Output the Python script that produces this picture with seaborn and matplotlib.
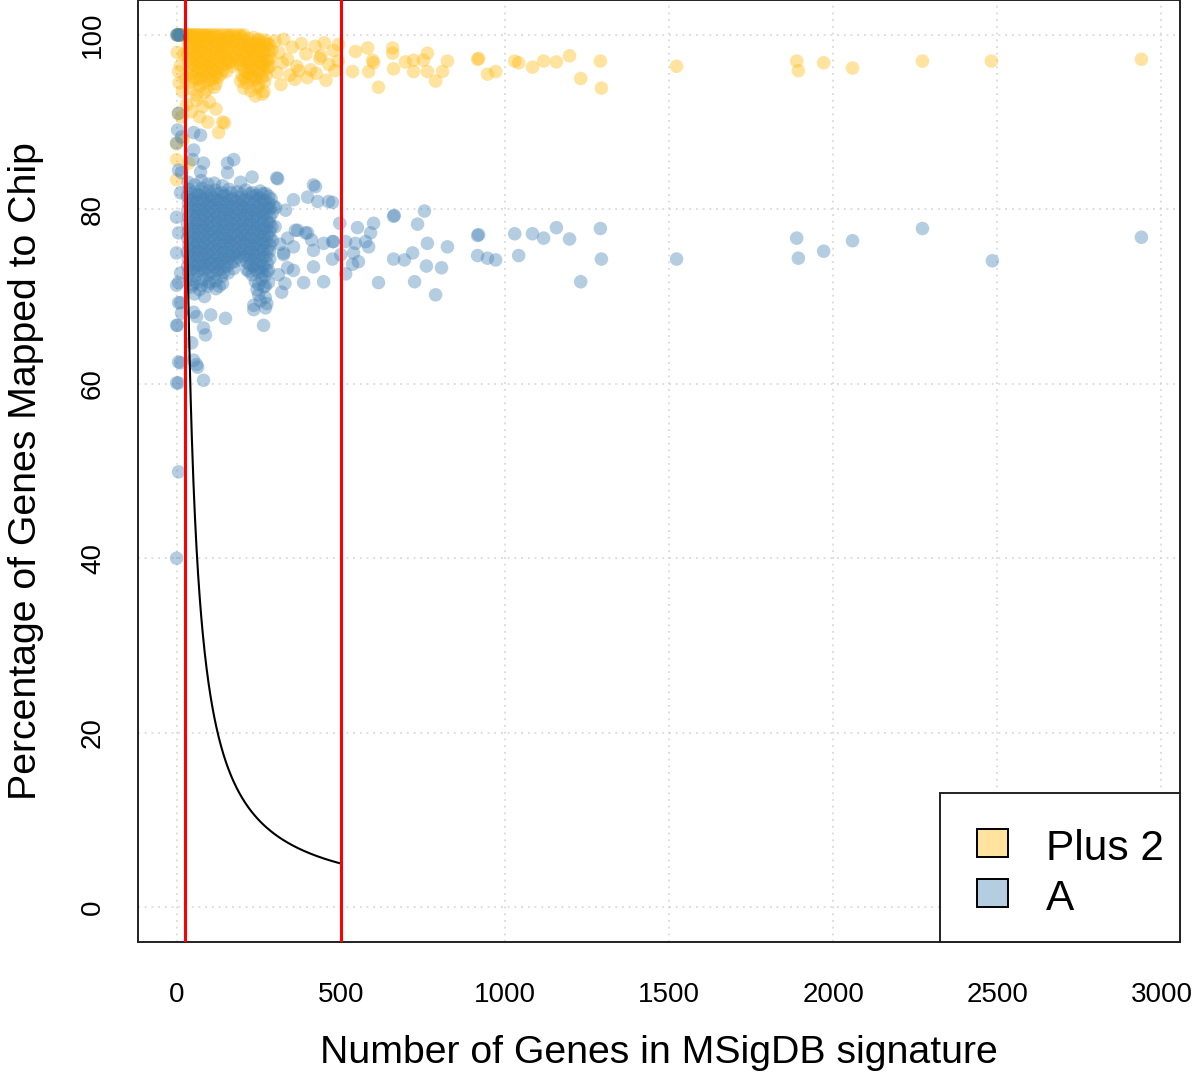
import numpy as np
import pandas as pd
import matplotlib
matplotlib.use("Agg")
import matplotlib.pyplot as plt
from matplotlib.patches import Rectangle
import seaborn as sns

# ---------------------------------------------------------------------------
# Signature size (number of genes) and percentage of genes present on chip
# ---------------------------------------------------------------------------
plus2_genes = [
    2, 4, 6, 8, 10, 12, 15, 18, 22, 26, 30, 35, 40, 46, 52, 58, 65, 72, 80, 88,
    96, 105, 114, 124, 134, 145, 156, 168, 180, 192, 205,
    47, 66, 84, 102, 120, 140, 160, 180, 198, 216, 234, 252, 270,
    35, 52, 68, 86, 103, 121, 138, 157, 174, 192, 210, 228, 247, 265, 283,
    44, 62, 80, 97, 115, 133, 150, 168, 186, 204, 222, 240, 258, 276,
    38, 56, 74, 91, 109, 127, 145, 163, 181, 199, 217, 236, 254, 272, 290,
    47, 65, 83, 101, 119, 137, 155, 173, 191, 209, 227, 245, 263, 281,
    33, 50, 69, 88, 106, 124, 142, 160, 178, 196, 214, 233, 251, 269, 286,
    42, 60, 79, 97, 116, 134, 152, 171, 189, 207, 226, 244, 262, 280,
    36, 55, 73, 92, 110, 129, 147, 165, 184, 202, 220, 238, 257, 275,
    48, 66, 84, 102, 120, 138, 158, 194, 212, 230, 248, 266, 284,
    40, 58, 77, 95, 113, 131, 150, 170, 205, 223, 241, 260, 278,
    50, 68, 86, 104, 122, 140, 210, 228, 247, 265,
    42, 61, 80, 98, 117, 135, 152, 200, 218, 236, 255, 273,
    52, 72, 90, 108, 126, 206, 224, 242, 260,
    45, 64, 83, 101, 120, 195, 213, 232, 250, 268,
    48, 70, 92, 115, 205, 226, 246, 266,
    60, 85, 240, 262,
    300, 312, 326, 338, 352, 366, 380, 394, 408, 422, 436, 450, 464, 478, 492,
    305, 322, 345, 372, 398, 425, 455, 482, 318, 360, 440,
    60, 80, 100, 120, 45, 70, 95, 140, 146, 128, 30, 15, 6, 8, 0, 0, 37, 20,
    2, 12, 18, 25, 22, 5, 0,
    493, 545, 582, 597, 600, 585, 536, 615, 658, 658, 661, 697, 722, 722, 752,
    764, 764, 789, 810, 825, 917, 920, 947, 972, 1030, 1042, 1084, 1118, 1157,
    1197, 1231, 1291, 1294, 1523, 1889, 1894, 1971, 2059, 2272, 2482, 2939,
]
plus2_pct = [
    100, 100, 100, 100, 100, 100, 100, 100, 100, 100, 100, 100, 100, 100, 100,
    100, 100, 100, 100, 100, 100, 100, 100, 100, 100, 100, 100, 100, 100, 100,
    100,
    99.8, 99.6, 99.9, 99.7, 99.8, 99.5, 99.9, 99.7, 99.8, 99.6, 99.7, 99.5, 99.4,
    99.3, 99.6, 99.2, 99.5, 99.7, 99.1, 99.4, 99.6, 99.2, 99.5, 99.3, 99.0, 99.4,
    99.1, 98.9,
    99.0, 98.8, 99.2, 98.9, 99.1, 98.7, 99.0, 99.2, 98.8, 99.0, 98.7, 99.1, 98.8,
    99.0,
    98.6, 98.9, 98.5, 98.8, 98.4, 98.7, 99.0, 98.6, 98.3, 98.8, 98.5, 98.9, 98.4,
    98.7, 98.2,
    98.3, 98.1, 98.4, 98.2, 98.3, 98.0, 98.4, 98.1, 98.3, 98.0, 98.4, 98.2, 98.0,
    98.2,
    97.8, 98.1, 97.7, 98.0, 97.6, 97.9, 98.2, 97.8, 97.5, 98.0, 97.7, 98.1, 97.6,
    97.9, 97.4,
    97.4, 97.6, 97.2, 97.5, 97.3, 97.6, 97.2, 97.4, 97.1, 97.5, 97.3, 97.6, 97.2,
    97.0,
    97.0, 97.3, 96.9, 97.2, 96.8, 97.1, 97.4, 96.9, 96.7, 97.2, 96.9, 97.3, 96.8,
    97.1,
    96.7, 96.9, 96.6, 96.8, 96.5, 96.7, 96.9, 96.6, 96.8, 96.5, 96.8, 96.6, 96.4,
    96.2, 96.5, 96.1, 96.4, 96.0, 96.3, 96.6, 96.4, 96.1, 96.4, 96.0, 96.5, 96.2,
    95.9, 96.1, 95.8, 96.0, 95.7, 95.9, 95.8, 96.1, 95.7, 95.9,
    95.4, 95.7, 95.3, 95.6, 95.2, 95.5, 95.8, 95.3, 95.6, 95.2, 95.7, 95.4,
    95.1, 95.0, 95.2, 94.9, 95.1, 95.0, 95.2, 94.9, 95.1,
    94.6, 94.9, 94.5, 94.8, 94.4, 94.7, 94.5, 94.9, 94.3, 94.6,
    93.8, 94.1, 93.7, 94.0, 93.9, 93.6, 94.0, 93.5,
    93.1, 93.4, 93.0, 93.2,
    99.3, 98.0, 99.5, 97.2, 98.6, 96.4, 99.0, 97.8, 96.0, 98.7, 97.3, 99.1, 96.6,
    98.2, 97.0,
    95.7, 96.8, 95.4, 95.9, 95.1, 95.6, 94.8, 95.9, 94.3, 94.9, 97.6,
    92.5, 91.8, 92.3, 91.5, 91.2, 90.6, 90.0, 90.0, 89.9, 88.8, 92.0, 90.6, 95.8,
    94.5, 85.7, 83.4, 85.3, 88.0,
    98.0, 96.5, 93.5, 95.0, 97.8, 91.0, 87.5,
    98.9, 98.1, 98.5, 97.1, 96.8, 95.8, 95.8, 94.0, 98.5, 97.9, 96.1, 96.9, 97.1,
    95.8, 97.1, 97.9, 95.8, 94.7, 95.8, 97.0, 97.2, 97.3, 95.5, 95.8, 97.0, 96.8,
    96.3, 97.0, 96.9, 97.6, 95.0, 97.0, 93.9, 96.4, 97.0, 95.9, 96.8, 96.2, 97.0,
    97.0, 97.2,
]

a_genes = [
    0, 3, 5, 8, 10,
    35, 55, 75, 95, 115, 140,
    38, 58, 78, 98, 118, 138, 160, 185, 210, 232, 255, 272,
    45, 65, 85, 105, 125, 145, 167, 197, 222, 244, 263, 281,
    33, 52, 72, 92, 112, 132, 152, 172, 192, 212, 232, 252, 270, 288,
    43, 62, 82, 102, 122, 142, 162, 182, 202, 222, 242, 262, 282,
    36, 56, 76, 96, 116, 136, 156, 176, 196, 216, 236, 256, 276, 295,
    46, 66, 86, 106, 126, 146, 166, 186, 206, 226, 246, 266, 284,
    34, 54, 74, 94, 114, 134, 154, 174, 194, 214, 234, 254, 274, 292,
    44, 64, 84, 104, 124, 144, 164, 184, 204, 224, 244, 264, 284,
    37, 57, 77, 97, 117, 137, 157, 177, 197, 217, 237, 257, 277,
    43, 63, 83, 103, 123, 143, 163, 183, 203, 223, 243, 263, 283,
    33, 53, 73, 93, 113, 133, 153, 173, 193, 213, 233, 253, 273, 290,
    44, 64, 84, 104, 124, 144, 164, 184, 204, 224, 244, 264, 284,
    36, 56, 76, 96, 116, 136, 156, 176, 196, 216, 236, 256, 276,
    46, 66, 86, 106, 126, 146, 166, 186, 206, 226, 246, 266, 284,
    34, 54, 74, 94, 114, 134, 154, 174, 194, 214, 234, 254, 274, 292,
    44, 64, 84, 104, 124, 144, 164, 184, 204, 224, 244, 264, 284,
    37, 57, 77, 97, 117, 137, 157, 177, 197, 217, 237, 257, 277,
    43, 63, 83, 103, 123, 143, 163, 183, 203, 223, 243, 263, 283,
    33, 53, 73, 93, 113, 133, 153, 173, 193, 213, 233, 253, 273,
    44, 64, 84, 104, 124, 144, 164, 184, 204, 224, 244, 264, 284,
    36, 56, 76, 96, 116, 136, 156, 176, 196, 216, 236, 256, 276,
    46, 66, 86, 106, 126, 146, 166, 224, 244, 264,
    34, 54, 74, 94, 114, 134, 154, 174, 214, 234, 254, 274,
    44, 64, 84, 104, 124, 144, 220, 240, 260, 280,
    37, 57, 77, 97, 117, 137, 157, 230, 250, 270,
    40, 60, 80, 100, 120, 140, 240, 260, 280,
    50, 75, 100, 130, 250, 270,
    45, 70, 95, 120, 245, 265,
    55, 85, 250, 270,
    255, 275,
    6, 15, 0, 3, 52, 73, 52, 49, 82, 73, 6, 155, 174, 155, 195, 230, 308,
    0, 6, 0, 12, 0, 12, 0, 6, 0, 6, 0, 12, 15, 6, 6, 3, 12, 6,
    82, 61, 46, 88, 82, 61, 15, 149, 235, 265, 271, 52, 52, 64, 104, 235,
    305, 417, 423, 356, 399, 430, 463, 302, 332, 399, 369, 338, 448, 478, 326,
    356, 417, 362, 411, 475, 497, 475, 500, 475, 387, 448, 417, 356, 338, 326,
    393, 310, 320, 300, 315, 330,
    515, 545, 576, 585, 539, 554, 536, 515, 615, 551, 600, 591, 661, 663, 755,
    734, 764, 825, 719, 661, 694, 761, 807, 725, 789, 917, 920, 917, 947, 972,
    1030, 1042, 1084, 1118, 1157, 1197, 1231, 1291, 1294, 1523, 1889, 1894,
    1971, 2059, 2272, 2485, 2939,
]
a_pct = [
    100, 100, 100, 100, 100,
    83.1, 82.8, 83.3, 82.9, 83.0, 82.7,
    82.3, 82.0, 82.4, 82.1, 82.2, 81.9, 82.3, 82.0, 82.2, 81.9, 82.1, 81.8,
    81.8, 81.7, 81.9, 81.6, 81.8, 81.6, 81.9, 81.7, 81.8, 81.6, 81.8, 81.5,
    81.5, 81.2, 81.6, 81.3, 81.4, 81.1, 81.5, 81.2, 81.4, 81.1, 81.5, 81.3, 81.0,
    81.2,
    81.0, 80.9, 81.1, 80.8, 81.0, 80.8, 81.1, 80.9, 81.0, 80.8, 81.1, 80.9, 80.7,
    80.7, 80.4, 80.8, 80.5, 80.6, 80.3, 80.7, 80.4, 80.6, 80.3, 80.7, 80.5, 80.2,
    80.4,
    80.2, 80.0, 80.3, 80.1, 80.2, 79.9, 80.3, 80.0, 80.2, 79.9, 80.2, 80.0, 80.1,
    79.9, 79.6, 80.0, 79.7, 79.8, 79.5, 79.9, 79.6, 79.8, 79.5, 79.9, 79.7, 79.4,
    79.6,
    79.4, 79.3, 79.5, 79.2, 79.4, 79.2, 79.5, 79.3, 79.4, 79.2, 79.5, 79.3, 79.1,
    79.1, 78.8, 79.2, 78.9, 79.0, 78.7, 79.1, 78.8, 79.0, 78.7, 79.1, 78.9, 78.6,
    78.6, 78.4, 78.7, 78.5, 78.6, 78.3, 78.7, 78.4, 78.6, 78.3, 78.7, 78.5, 78.4,
    78.3, 78.0, 78.4, 78.1, 78.2, 77.9, 78.3, 78.0, 78.2, 77.9, 78.3, 78.1, 77.8,
    78.0,
    77.8, 77.7, 77.9, 77.6, 77.8, 77.6, 77.9, 77.7, 77.8, 77.6, 77.9, 77.7, 77.5,
    77.5, 77.2, 77.6, 77.3, 77.4, 77.1, 77.5, 77.2, 77.4, 77.1, 77.5, 77.3, 77.0,
    77.0, 76.8, 77.1, 76.9, 77.0, 76.7, 77.1, 76.8, 77.0, 76.7, 77.1, 76.9, 76.8,
    76.7, 76.4, 76.8, 76.5, 76.6, 76.3, 76.7, 76.4, 76.6, 76.3, 76.7, 76.5, 76.2,
    76.4,
    76.2, 76.1, 76.3, 76.0, 76.2, 76.0, 76.3, 76.1, 76.2, 76.0, 76.3, 76.1, 75.9,
    75.9, 75.6, 76.0, 75.7, 75.8, 75.5, 75.9, 75.6, 75.8, 75.5, 75.9, 75.7, 75.4,
    75.4, 75.2, 75.5, 75.3, 75.4, 75.1, 75.5, 75.2, 75.4, 75.1, 75.5, 75.3, 75.2,
    75.1, 74.8, 75.2, 74.9, 75.0, 74.7, 75.1, 74.8, 75.0, 74.7, 75.1, 74.9, 74.6,
    74.6, 74.5, 74.7, 74.4, 74.6, 74.4, 74.7, 74.5, 74.6, 74.4, 74.7, 74.5, 74.3,
    74.3, 74.0, 74.4, 74.1, 74.2, 73.9, 74.3, 74.0, 74.2, 73.9, 74.3, 74.1, 73.8,
    73.8, 73.6, 73.9, 73.7, 73.8, 73.5, 73.9, 73.6, 73.8, 73.5,
    73.5, 73.2, 73.6, 73.3, 73.4, 73.1, 73.5, 73.2, 73.1, 73.5, 73.3, 73.0,
    73.0, 72.9, 73.1, 72.8, 73.0, 72.8, 72.9, 73.1, 72.8, 73.0,
    72.7, 72.4, 72.8, 72.5, 72.6, 72.3, 72.7, 72.5, 72.8, 72.4,
    71.9, 71.6, 72.0, 71.7, 71.8, 71.5, 71.7, 72.0, 71.6,
    71.4, 71.3, 71.5, 71.2, 71.4, 71.2,
    71.1, 70.8, 71.2, 70.9, 70.8, 71.1,
    70.3, 70.0, 70.2, 69.9,
    69.5, 69.2,
    91.0, 88.3, 87.6, 89.1, 88.8, 88.5, 86.8, 85.7, 85.3, 84.3, 84.5, 85.3, 85.7,
    84.2, 83.1, 83.7, 83.5,
    79.1, 77.3, 75.0, 72.7, 71.3, 69.3, 66.7, 62.5, 60.1, 49.9, 40.0, 81.9, 84.2,
    71.6, 69.3, 66.7, 62.4, 60.1,
    60.4, 62.2, 64.7, 65.6, 66.4, 67.7, 68.1, 67.5, 68.5, 66.7, 68.7, 68.2, 62.7,
    61.9, 67.9, 69.0,
    83.6, 82.8, 82.6, 81.1, 81.4, 80.9, 80.9, 80.2, 79.9, 77.3, 77.6, 76.7, 76.1,
    76.3, 75.0, 75.7, 75.3, 77.6, 76.5, 80.8, 78.4, 76.3, 74.8, 74.3, 71.6, 71.7,
    73.4, 73.0, 73.3, 74.8, 77.3, 72.5, 70.5, 78.0, 76.0, 71.5,
    76.3, 76.1, 76.3, 75.7, 75.0, 74.0, 73.7, 72.6, 71.6, 77.9, 78.4, 77.3, 79.2,
    79.3, 79.8, 78.3, 76.1, 75.7, 75.0, 74.3, 74.2, 73.5, 73.3, 71.7, 70.2, 77.0,
    77.1, 74.7, 74.4, 74.2, 77.2, 74.7, 77.2, 76.7, 77.9, 76.6, 71.7, 77.8, 74.3,
    74.3, 76.7, 74.4, 75.2, 76.4, 77.8, 74.1, 76.8,
]

chip_names = ["Plus 2", "A"]
chip_colors = {"Plus 2": (1.0, 185 / 255, 15 / 255), "A": (70 / 255, 130 / 255, 180 / 255)}
POINT_ALPHA = 0.4

# Size filter used for the signatures: at least 25 mapped genes, at most 500 genes
MIN_GENES = 25
MAX_GENES = 500

x_ticks = [0, 500, 1000, 1500, 2000, 2500, 3000]
y_ticks = [0, 20, 40, 60, 80, 100]

df = pd.DataFrame({
    "genes": plus2_genes + a_genes,
    "pct": plus2_pct + a_pct,
    "chip": ["Plus 2"] * len(plus2_genes) + ["A"] * len(a_genes),
})

# ---------------------------------------------------------------------------
sns.set_theme(style="white")
plt.rcParams["font.family"] = ["Liberation Sans", "DejaVu Sans"]
plt.rcParams["text.color"] = "black"
plt.rcParams["axes.labelcolor"] = "black"

fig = plt.figure(figsize=(11.94, 10.78), dpi=100)
ax = fig.add_axes([138 / 1194, 136 / 1078, 1042 / 1194, 942 / 1078])

sns.scatterplot(data=df, x="genes", y="pct", hue="chip", hue_order=chip_names,
                palette=chip_colors, alpha=POINT_ALPHA, s=95, linewidth=0,
                legend=False, ax=ax, zorder=3)

# threshold curve: percentage that corresponds to MIN_GENES mapped genes
curve_n = np.linspace(MIN_GENES, MAX_GENES, 400)
ax.plot(curve_n, 100 * MIN_GENES / curve_n, color="black", lw=1.5, zorder=4)
for v in (MIN_GENES, MAX_GENES):
    ax.axvline(v, color="red", lw=2.2, zorder=5)

# axis ranges padded by 4% like base R graphics
xmin, xmax = min(df["genes"]), max(df["genes"])
pad_x = 0.04 * (xmax - xmin)
ax.set_xlim(xmin - pad_x, xmax + pad_x)
ax.set_ylim(-4, 104)

ax.set_xticks(x_ticks)
ax.set_xticklabels([str(t) for t in x_ticks])
ax.set_yticks(y_ticks)
ax.set_yticklabels([str(t) for t in y_ticks], rotation=90, va="center")
ax.tick_params(axis="both", direction="out", length=12, width=1.4, color="#222222",
               labelsize=20, labelcolor="black")
ax.tick_params(axis="x", pad=17)
ax.tick_params(axis="y", pad=11)

ax.grid(True, color="#d3d3d3", lw=1.1, linestyle=(0, (1.2, 3.2)))
ax.set_axisbelow(True)
for sp in ax.spines.values():
    sp.set_visible(True)
    sp.set_color("#222222")
    sp.set_linewidth(1.4)

ax.set_xlabel("Number of Genes in MSigDB signature", fontsize=28.3, labelpad=19)
ax.set_ylabel("Percentage of Genes Mapped to Chip", fontsize=28.3, labelpad=26)

# legend box in the lower-right corner
legend_bg = Rectangle((0.7697, 0.0), 0.2303, 0.1582, transform=ax.transAxes,
                      facecolor="white", edgecolor="#222222", lw=1.4, zorder=10,
                      clip_on=False)
ax.add_patch(legend_bg)
key_rows = [(chip_names[0], 0.0902, 0.0870), (chip_names[1], 0.0372, 0.0340)]
for name, key_y, text_y in key_rows:
    r, g, b = chip_colors[name]
    ax.add_patch(Rectangle((0.8052, key_y), 0.0297, 0.0298, transform=ax.transAxes,
                           facecolor=(r, g, b, POINT_ALPHA), edgecolor="black",
                           lw=1.4, zorder=11))
    ax.text(0.8714, text_y, name, transform=ax.transAxes, fontsize=30.5,
            va="baseline", ha="left", zorder=12)

fig.savefig("out.png", dpi=100)
